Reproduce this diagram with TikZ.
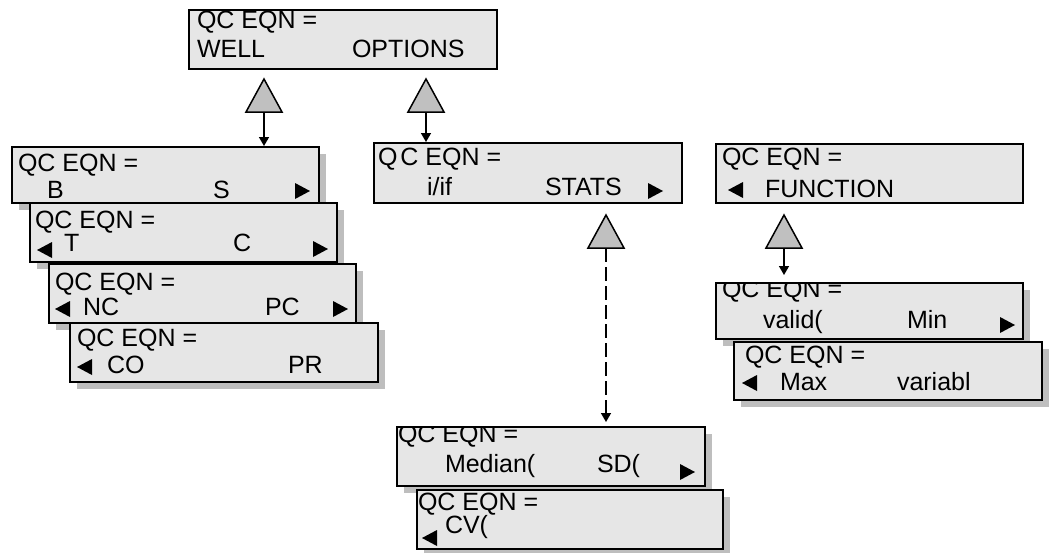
\documentclass[tikz,border=0pt]{standalone}
\usepackage{fontspec}
\setmainfont{Liberation Sans}
\usetikzlibrary{arrows.meta}
\definecolor{boxfill}{HTML}{E6E6E6}
\definecolor{shadowgray}{HTML}{BEBEBE}
\definecolor{trifill}{HTML}{C0C0C0}
\tikzset{
  qc/.style={draw=black, line width=2pt, fill=boxfill, anchor=north west, inner sep=0pt, outer sep=0pt},
  lbl/.style={anchor=base west, inner sep=0pt, outer sep=0pt, font=\fontsize{25}{30}\selectfont},
  frame/.style={draw=black, line width=2pt},
  tri/.style={draw=black, line width=1.5pt, fill=trifill, line join=miter},
  link/.style={line width=1.5pt, -{Triangle[width=10pt,length=9pt]}},
  dlink/.style={link, dash pattern=on 14pt off 5pt},
}
\newcommand\qcbox[6]{\node[#1, minimum width=#5pt, minimum height=#6pt] (#2) at (#3,#4) {};}
\newcommand\qcsbox[5]{%
  \path node[qc, draw=none, fill=none, minimum width=#4pt, minimum height=#5pt] (#1) at (#2,#3) {};
  \fill[shadowgray] ([shift={(7pt,-7pt)}]#1.north west) rectangle ([shift={(7pt,-7pt)}]#1.south east);
  \node[qc, minimum width=#4pt, minimum height=#5pt] (#1) at (#2,#3) {};}
\newcommand\qcframe[1]{\draw[frame] (#1.north west) rectangle (#1.south east);}
\newcommand\rtri[2]{\fill (#1,#2) -- ++(15,8) -- ++(-15,8) -- cycle;}
\newcommand\ltri[2]{\fill (#1,#2) ++(15,0) -- ++(0,16) -- ++(-15,-8) -- cycle;}
\newcommand\uptri[3]{\coordinate (#1) at (#2,#3);
  \filldraw[tri] (#1) ++(-18,0) -- ++(36,0) -- ++(-18,-33) -- cycle;}
\begin{document}
\begin{tikzpicture}[x=1pt,y=-1pt]
\useasboundingbox (0,0) rectangle (1049,552);

% top box
\qcbox{qc}{top}{189}{10}{308}{59}
\begin{scope}\clip (top.north west) rectangle (top.south east);
\node[lbl] (topa) at (197,28) {QC EQN =};
\node[lbl] (topb) at (197,57) {WELL};
\node[lbl] (topc) at (352,57) {OPTIONS};
\end{scope}
\qcframe{top}

% left stack
\qcsbox{b1}{12}{147}{307}{56}
\begin{scope}\clip (b1.north west) rectangle (b1.south east);
\node[lbl] (b1a) at (18,171) {QC EQN =};
\node[lbl] (b1b) at (47,198) {B};
\node[lbl] (b1c) at (213,198) {S};
\end{scope}
\qcframe{b1}
\rtri{295}{183}

\qcsbox{b2}{30}{203}{307}{59}
\begin{scope}\clip (b2.north west) rectangle (b2.south east);
\node[lbl] (b2a) at (35,228) {QC EQN =};
\node[lbl] (b2b) at (64,251) {T};
\node[lbl] (b2c) at (233,251) {C};
\end{scope}
\qcframe{b2}
\ltri{37}{242}
\rtri{313}{241}

\qcsbox{b3}{49}{264}{307}{59}
\begin{scope}\clip (b3.north west) rectangle (b3.south east);
\node[lbl] (b3a) at (55,290) {QC EQN =};
\node[lbl] (b3b) at (83,315) {NC};
\node[lbl] (b3c) at (265,315) {PC};
\end{scope}
\qcframe{b3}
\ltri{55}{301}
\rtri{333}{301}

\qcsbox{b4}{70}{323}{308}{59}
\begin{scope}\clip (b4.north west) rectangle (b4.south east);
\node[lbl] (b4a) at (77,346) {QC EQN =};
\node[lbl] (b4b) at (107,373) {CO};
\node[lbl] (b4c) at (288,373) {PR};
\end{scope}
\qcframe{b4}
\ltri{77}{359}

% middle box
\qcbox{qc}{mid}{374}{143}{308}{60}
\begin{scope}\clip (mid.north west) rectangle (mid.south east);
\node[lbl] (mida) at (378,165) {Q\hspace{3pt}C EQN =};
\node[lbl] (midb) at (427,195) {i/if};
\node[lbl] (midc) at (545,195) {STATS};
\end{scope}
\qcframe{mid}
\rtri{648}{183}

% function box
\qcbox{qc}{fun}{716}{144}{307}{59}
\begin{scope}\clip (fun.north west) rectangle (fun.south east);
\node[lbl] (funa) at (722,165) {QC EQN =};
\node[lbl] (funb) at (765,197) {FUNCTION};
\end{scope}
\qcframe{fun}
\ltri{728}{182}

% valid / max
\qcsbox{val}{716}{283}{307}{56}
\begin{scope}\clip (val.north west) rectangle (val.south east);
\node[lbl] (vala) at (722,297) {QC EQN =};
\node[lbl] (valb) at (763,328) {valid(};
\node[lbl] (valc) at (907,328) {Min};
\end{scope}
\qcframe{val}
\rtri{1000}{317}

\qcsbox{max}{734}{342}{308}{58}
\begin{scope}\clip (max.north west) rectangle (max.south east);
\node[lbl] (maxa) at (745,363) {QC EQN =};
\node[lbl] (maxb) at (780,390) {Max};
\node[lbl] (maxc) at (897,390) {variabl};
\end{scope}
\qcframe{max}
\ltri{742}{375}

% median / cv
\qcsbox{med}{397}{427}{308}{59}
\begin{scope}\clip (med.north west) rectangle (med.south east);
\node[lbl] (meda) at (398,442) {QC EQN =};
\node[lbl] (medb) at (445,472) {Median(};
\node[lbl] (medc) at (597,472) {SD(};
\end{scope}
\qcframe{med}
\rtri{680}{464}

\qcsbox{cv}{417}{490}{306}{59}
\begin{scope}\clip (cv.north west) rectangle (cv.south east);
\node[lbl] (cva) at (418,510) {QC EQN =};
\node[lbl] (cvb) at (445,533) {CV(};
\end{scope}
\qcframe{cv}
\ltri{422}{530}

% triangles and connectors
\uptri{t1}{264}{112}
\uptri{t2}{426}{112}
\uptri{t3}{606}{248}
\uptri{t4}{784}{248}
\draw[link, shorten >=1pt] (t1) -- (t1 |- b1.north);
\draw[link, shorten >=1pt] (t2) -- (t2 |- mid.north);
\draw[dlink, shorten >=5pt] (t3) -- (t3 |- med.north);
\draw[link, shorten >=8pt] (t4) -- (t4 |- val.north);
\end{tikzpicture}
\end{document}
